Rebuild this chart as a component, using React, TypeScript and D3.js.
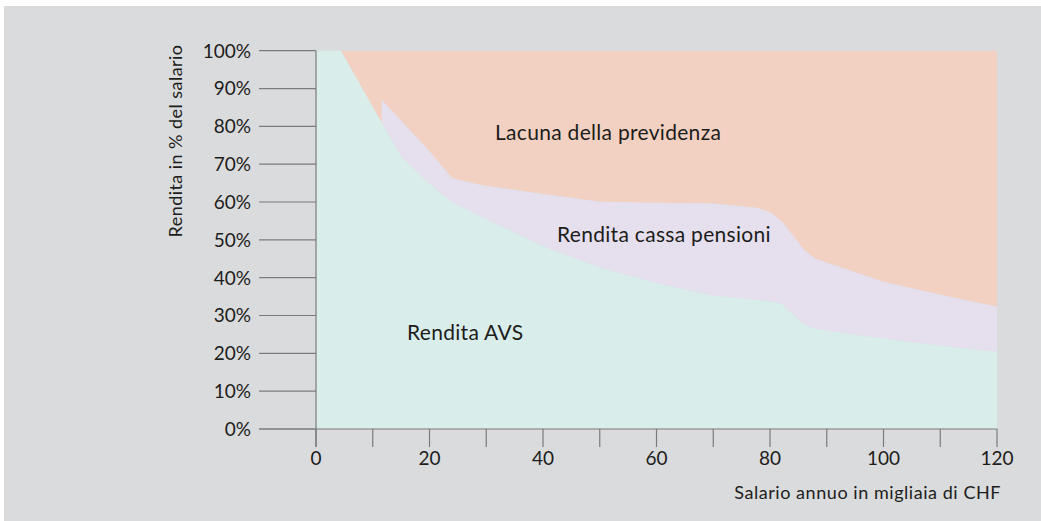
import * as d3 from "d3";

// salary in thousands of CHF (11.6 twice: the pension fund starts with a step)
const salary = [0, 4.4, 11.6, 11.6, 15, 20, 24, 29, 40, 50, 60, 70, 78, 80, 82, 84, 86, 88, 91, 100, 110, 120];
// AVS pension in % of salary
const avs = [100, 100, 80.9, 80.9, 72, 64.8, 59.9, 56.2, 48.3, 42.7, 38.5, 35.2, 34.1, 33.8, 33.2, 30.3, 27.6, 26.5, 25.8, 23.9, 22.0, 20.4];
// pension fund (cassa pensioni) in % of salary, stacked on AVS
const pensionFund = [0, 0, 0, 6.1, 9.5, 8.6, 6.4, 8.3, 13.8, 17.4, 21.3, 24.4, 24.3, 23.5, 21.8, 20.9, 19.7, 18.5, 17.7, 15.0, 13.5, 11.9];

const yTicks = [0, 10, 20, 30, 40, 50, 60, 70, 80, 90, 100];
const xTicks = [0, 10, 20, 30, 40, 50, 60, 70, 80, 90, 100, 110, 120];
const xLabels = [0, 20, 40, 60, 80, 100, 120];

const W = 1041;
const H = 521;
const FONT = "Lato, 'Open Sans', sans-serif";

export default function App() {
  const x = d3.scaleLinear().domain([0, 120]).range([316, 997]);
  const y = d3.scaleLinear().domain([0, 100]).range([429, 50.7]);

  const rows = salary.map((s, i) => ({ s, avs: avs[i], total: avs[i] + pensionFund[i] }));

  // gap = everything above avs + pension
  const gapArea = d3.area<any>()
    .x(d => x(d.s))
    .y0(d => y(d.total))
    .y1(() => y(100));
  const pensionArea = d3.area<any>()
    .x(d => x(d.s))
    .y0(d => y(d.avs))
    .y1(d => y(d.total));
  const avsArea = d3.area<any>()
    .x(d => x(d.s))
    .y0(() => y(0))
    .y1(d => y(d.avs));

  const axisColor = "#7b7b7b";
  const textColor = "#1d1d1b";

  return (
    <svg width={W} height={H} style={{ position: "absolute", left: 0, top: 0 }} fontFamily={FONT}>
      <rect x={4} y={6} width={W - 4} height={H - 6} fill="#dadbdc" />

      <path d={gapArea(rows) || ""} fill="#f2d1c2" />
      <path d={pensionArea(rows) || ""} fill="#e5dfee" />
      <path d={avsArea(rows) || ""} fill="#d9edeb" />

      {/* y axis */}
      <line x1={x(0)} x2={x(0)} y1={y(100)} y2={y(0) + 18} stroke={axisColor} strokeWidth={1.2} />
      {yTicks.map(t => (
        <g key={t}>
          <line x1={259} x2={x(0)} y1={y(t)} y2={y(t)} stroke={axisColor} strokeWidth={1.2} />
          <text x={251} y={y(t)} dy="0.36em" textAnchor="end" fontSize={19} fill={textColor}>{t}%</text>
        </g>
      ))}

      {/* x axis */}
      <line x1={259} x2={x(120)} y1={y(0)} y2={y(0)} stroke={axisColor} strokeWidth={1.2} />
      {xTicks.map(t => (
        <line key={t} x1={x(t)} x2={x(t)} y1={y(0)} y2={y(0) + 18} stroke={axisColor} strokeWidth={1.2} />
      ))}
      {xLabels.map(t => (
        <text key={t} x={x(t)} y={465} textAnchor="middle" fontSize={19} fill={textColor}>{t}</text>
      ))}

      <text transform={`translate(182,141) rotate(-90)`} textAnchor="middle" fontSize={18} letterSpacing={0.45} fill={textColor}>
        Rendita in % del salario
      </text>
      <text x={1001} y={499} textAnchor="end" fontSize={18} letterSpacing={0.55} fill={textColor}>
        Salario annuo in migliaia di CHF
      </text>

      <text x={495} y={140} fontSize={21} letterSpacing={0.3} fill={textColor}>Lacuna della previdenza</text>
      <text x={557} y={242} fontSize={21} letterSpacing={0.3} fill={textColor}>Rendita cassa pensioni</text>
      <text x={407} y={340} fontSize={21} letterSpacing={0.3} fill={textColor}>Rendita AVS</text>
    </svg>
  );
}
